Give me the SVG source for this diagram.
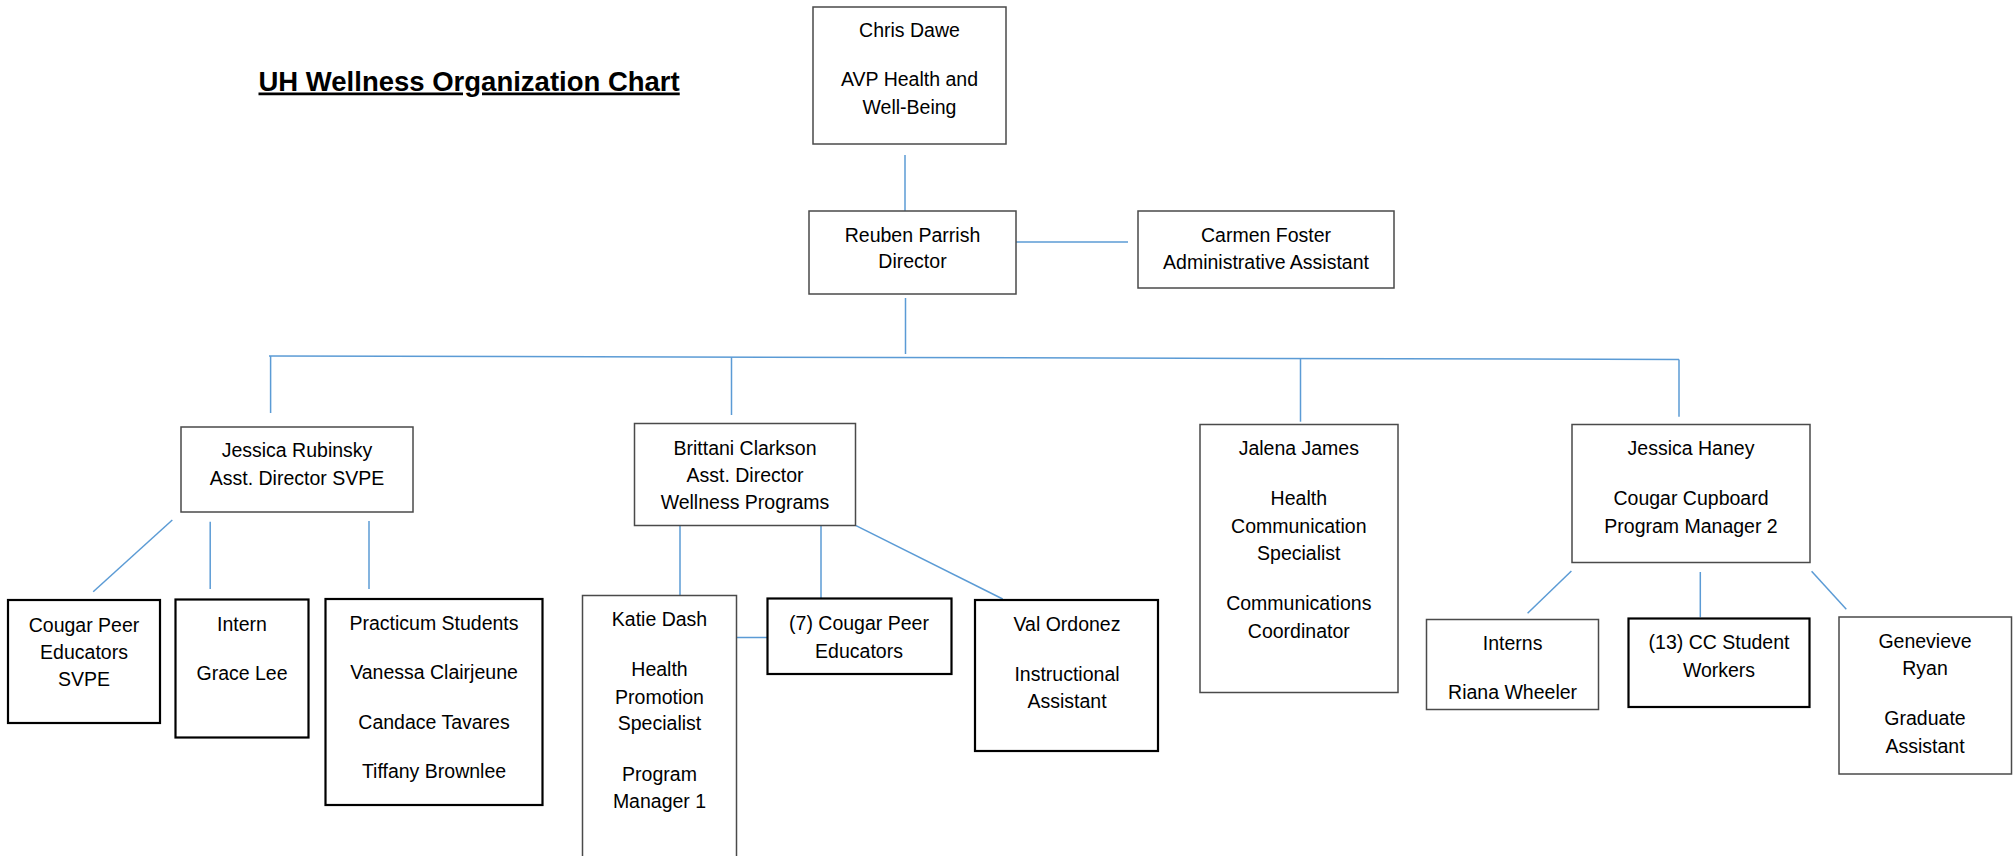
<svg xmlns="http://www.w3.org/2000/svg" width="2016" height="856" viewBox="0 0 2016 856">
<style>
  .bg{fill:#ffffff}
  .box{fill:#ffffff;stroke:#4a4a4a;stroke-width:1.5}
  .bold{fill:#ffffff;stroke:#000000;stroke-width:2.2}
  .t{font-family:"Liberation Sans",Arial,sans-serif;font-size:19.5px;fill:#000000;text-anchor:middle}
  .title{font-family:"Liberation Sans",Arial,sans-serif;font-size:27.5px;font-weight:bold;fill:#000000;text-decoration:underline}
  .conn line{stroke:#5b9bd5;stroke-width:1.5;fill:none}
</style>
<rect class="bg" x="0" y="0" width="2016" height="856"/>
<text class="title" x="258.5" y="90.5">UH Wellness Organization Chart</text>

<g id="connectors" class="conn">
  <line x1="905" y1="155" x2="905" y2="211"/>
  <line x1="1016" y1="242" x2="1128" y2="242"/>
  <line x1="905.5" y1="298" x2="905.5" y2="354"/>
  <line x1="269" y1="356" x2="1679" y2="359.5"/>
  <line x1="270.6" y1="356" x2="270.6" y2="413"/>
  <line x1="731.5" y1="357" x2="731.5" y2="415"/>
  <line x1="1300.5" y1="359" x2="1300.5" y2="421.7"/>
  <line x1="1679" y1="359.5" x2="1679" y2="416.7"/>
  <line x1="172.3" y1="520" x2="93.2" y2="591.7"/>
  <line x1="210.2" y1="521.7" x2="210.2" y2="589"/>
  <line x1="369" y1="521" x2="369" y2="589"/>
  <line x1="680" y1="523" x2="680" y2="595.5"/>
  <line x1="821" y1="525.7" x2="821" y2="598.5"/>
  <line x1="856" y1="525.7" x2="1002.7" y2="599"/>
  <line x1="736.7" y1="637.5" x2="767.5" y2="637.5"/>
  <line x1="1571.4" y1="571" x2="1527.6" y2="613.3"/>
  <line x1="1700.3" y1="572" x2="1700.3" y2="617.3"/>
  <line x1="1811.6" y1="571.3" x2="1846.3" y2="609.3"/>
</g>

<g id="chris-dawe">
  <rect class="box" x="813" y="7" width="193" height="137"/>
  <text class="t" x="909.5" y="37">Chris Dawe</text>
  <text class="t" x="909.5" y="86">AVP Health and</text>
  <text class="t" x="909.5" y="114">Well-Being</text>
</g>
<g id="reuben-parrish">
  <rect class="box" x="809" y="211" width="207" height="83"/>
  <text class="t" x="912.5" y="242">Reuben Parrish</text>
  <text class="t" x="912.5" y="268">Director</text>
</g>
<g id="carmen-foster">
  <rect class="box" x="1138" y="211" width="256" height="77"/>
  <text class="t" x="1266" y="242">Carmen Foster</text>
  <text class="t" x="1266" y="269">Administrative Assistant</text>
</g>
<g id="jessica-rubinsky">
  <rect class="box" x="181" y="427" width="232" height="85"/>
  <text class="t" x="297" y="457">Jessica Rubinsky</text>
  <text class="t" x="297" y="485">Asst. Director SVPE</text>
</g>
<g id="brittani-clarkson">
  <rect class="box" x="634.5" y="423.5" width="221" height="102"/>
  <text class="t" x="745" y="455">Brittani Clarkson</text>
  <text class="t" x="745" y="482">Asst. Director</text>
  <text class="t" x="745" y="509">Wellness Programs</text>
</g>
<g id="jalena-james">
  <rect class="box" x="1200" y="424.5" width="198" height="268"/>
  <text class="t" x="1298.8" y="455">Jalena James</text>
  <text class="t" x="1298.8" y="505">Health</text>
  <text class="t" x="1298.8" y="533">Communication</text>
  <text class="t" x="1298.8" y="560">Specialist</text>
  <text class="t" x="1298.8" y="610">Communications</text>
  <text class="t" x="1298.8" y="638">Coordinator</text>
</g>
<g id="jessica-haney">
  <rect class="box" x="1572" y="424.5" width="238" height="138"/>
  <text class="t" x="1691" y="455">Jessica Haney</text>
  <text class="t" x="1691" y="505">Cougar Cupboard</text>
  <text class="t" x="1691" y="533">Program Manager 2</text>
</g>
<g id="cougar-peer-svpe">
  <rect class="bold" x="8" y="600" width="152" height="123"/>
  <text class="t" x="84" y="632">Cougar Peer</text>
  <text class="t" x="84" y="659">Educators</text>
  <text class="t" x="84" y="686">SVPE</text>
</g>
<g id="intern">
  <rect class="bold" x="175.5" y="599.5" width="133" height="138"/>
  <text class="t" x="242" y="631">Intern</text>
  <text class="t" x="242" y="680">Grace Lee</text>
</g>
<g id="practicum">
  <rect class="bold" x="325.5" y="599" width="217" height="206"/>
  <text class="t" x="434" y="630">Practicum Students</text>
  <text class="t" x="434" y="679">Vanessa Clairjeune</text>
  <text class="t" x="434" y="729">Candace Tavares</text>
  <text class="t" x="434" y="778">Tiffany Brownlee</text>
</g>
<g id="katie-dash">
  <rect class="box" x="582.5" y="595.5" width="154" height="280"/>
  <text class="t" x="659.5" y="626">Katie Dash</text>
  <text class="t" x="659.5" y="676">Health</text>
  <text class="t" x="659.5" y="704">Promotion</text>
  <text class="t" x="659.5" y="730">Specialist</text>
  <text class="t" x="659.5" y="781">Program</text>
  <text class="t" x="659.5" y="808">Manager 1</text>
</g>
<g id="cougar-peer-7">
  <rect class="bold" x="767.5" y="598.5" width="184" height="75.5"/>
  <text class="t" x="859" y="630">(7) Cougar Peer</text>
  <text class="t" x="859" y="658">Educators</text>
</g>
<g id="val-ordonez">
  <rect class="bold" x="975" y="600" width="183" height="151"/>
  <text class="t" x="1067" y="631">Val Ordonez</text>
  <text class="t" x="1067" y="681">Instructional</text>
  <text class="t" x="1067" y="708">Assistant</text>
</g>
<g id="interns">
  <rect class="box" x="1426.5" y="619.5" width="172" height="90"/>
  <text class="t" x="1512.6" y="650">Interns</text>
  <text class="t" x="1512.6" y="699">Riana Wheeler</text>
</g>
<g id="cc-student-workers">
  <rect class="bold" x="1628.5" y="618.5" width="181" height="88.5"/>
  <text class="t" x="1719" y="648.5">(13) CC Student</text>
  <text class="t" x="1719" y="677">Workers</text>
</g>
<g id="genevieve-ryan">
  <rect class="box" x="1839" y="617" width="172.5" height="157"/>
  <text class="t" x="1925" y="648">Genevieve</text>
  <text class="t" x="1925" y="674.5">Ryan</text>
  <text class="t" x="1925" y="725">Graduate</text>
  <text class="t" x="1925" y="753">Assistant</text>
</g>
</svg>
